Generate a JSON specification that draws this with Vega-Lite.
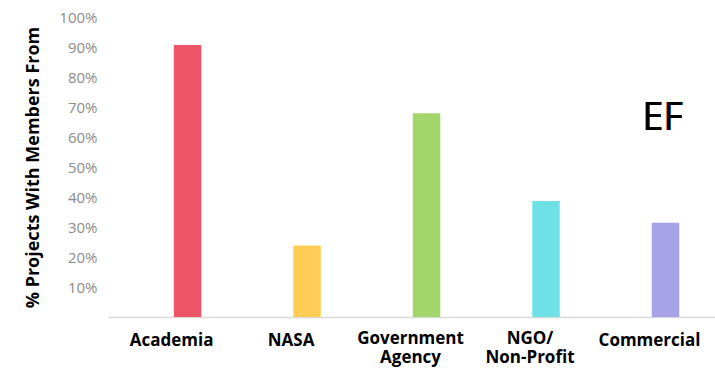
{
  "$schema": "https://vega.github.io/schema/vega-lite/v6.json",
  "width": 607,
  "height": 300,
  "autosize": {"type": "none"},
  "padding": {"left": 108, "top": 17, "right": 0, "bottom": 51},
  "background": "white",
  "config": {
    "view": {"stroke": null},
    "axisX": {
      "title": null,
      "labelAngle": 0,
      "labelFont": "Open Sans",
      "labelFontWeight": "bold",
      "labelFontSize": 17,
      "labelColor": "#000000",
      "labelOffset": -16,
      "labelLineHeight": 19,
      "labelOverlap": false,
      "labelBound": false,
      "ticks": false,
      "domainColor": "#D9D9D9",
      "domainWidth": 1.5
    },
    "axisY": {
      "titleFont": "Open Sans",
      "titleFontWeight": "bold",
      "titleFontSize": 18,
      "titleColor": "#000000",
      "titlePadding": 16,
      "labelFont": "Open Sans",
      "labelFontSize": 15,
      "labelColor": "#8C8C8C",
      "labelPadding": 11,
      "labelOverlap": false,
      "labelBound": false,
      "grid": false,
      "ticks": false,
      "domain": false
    }
  },
  "data": {
    "values": [
      {"sector": "Academia", "share": 0.907, "color": "#EE5566"},
      {"sector": "NASA", "share": 0.238, "color": "#FFCD55"},
      {"sector": "Government Agency", "share": 0.679, "color": "#A2D56A"},
      {"sector": "NGO/Non-Profit", "share": 0.387, "color": "#6EE1E7"},
      {"sector": "Commercial", "share": 0.314, "color": "#A6A3E8"}
    ]
  },
  "layer": [
    {
      "mark": {"type": "bar"},
      "encoding": {
        "x": {
          "field": "sector",
          "type": "nominal",
          "sort": null,
          "scale": {"paddingInner": 0.77, "paddingOuter": 0.425, "align": 0.648},
          "axis": {
            "title": null,
            "labelPadding": {
              "condition": {"test": "datum.value == 'Government Agency' || datum.value == 'NGO/Non-Profit'", "value": 13},
              "value": 15
            },
            "labelExpr": "datum.value == 'Government Agency' ? ['Government', 'Agency'] : datum.value == 'NGO/Non-Profit' ? ['NGO/', 'Non-Profit'] : datum.value"
          }
        },
        "y": {
          "field": "share",
          "type": "quantitative",
          "scale": {"domain": [0, 1]},
          "axis": {
            "title": "% Projects With Members From",
            "values": [0.1, 0.2, 0.3, 0.4, 0.5, 0.6, 0.7, 0.8, 0.9, 1.0],
            "format": ".0%",
            "labelOverlap": false
          }
        },
        "color": {"field": "color", "type": "nominal", "scale": null, "legend": null}
      }
    },
    {
      "mark": {"type": "text", "text": "EF", "font": "Open Sans", "fontSize": 38, "color": "#000000", "dx": -3},
      "encoding": {
        "x": {
          "datum": "Commercial",
          "type": "nominal",
          "axis": {
            "title": null,
            "labelPadding": {
              "condition": {"test": "datum.value == 'Government Agency' || datum.value == 'NGO/Non-Profit'", "value": 13},
              "value": 15
            },
            "labelExpr": "datum.value == 'Government Agency' ? ['Government', 'Agency'] : datum.value == 'NGO/Non-Profit' ? ['NGO/', 'Non-Profit'] : datum.value"
          }
        },
        "y": {
          "datum": 0.66,
          "type": "quantitative",
          "axis": {
            "title": "% Projects With Members From",
            "values": [0.1, 0.2, 0.3, 0.4, 0.5, 0.6, 0.7, 0.8, 0.9, 1.0],
            "format": ".0%",
            "labelOverlap": false
          }
        }
      }
    }
  ]
}
